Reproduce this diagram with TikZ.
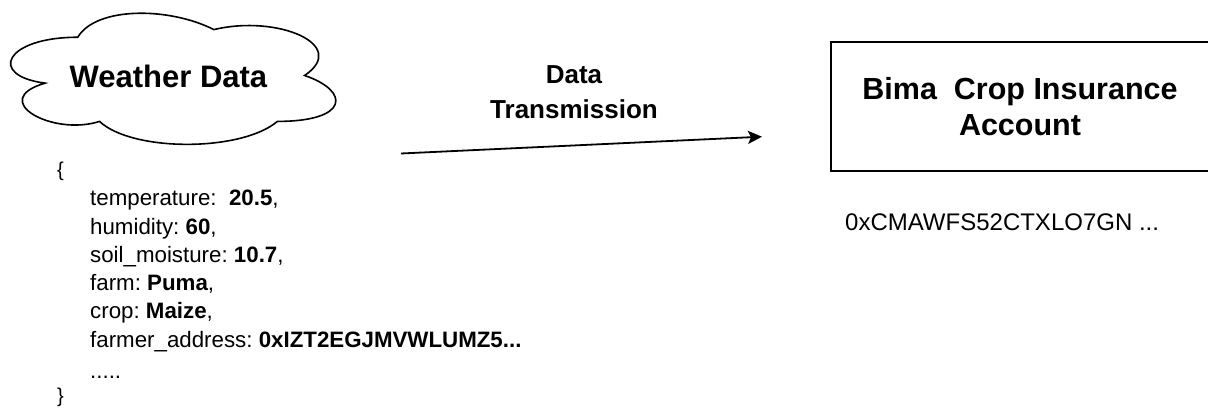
\documentclass[tikz,border=0pt]{standalone}
\usepackage{fontspec}
\setmainfont{Liberation Sans}
\usetikzlibrary{arrows.meta}
\frenchspacing
\tikzset{
  outline/.style={draw=black, line width=1.6pt},
  title/.style={font=\fontsize{31}{36}\selectfont\bfseries, inner sep=0pt},
  label/.style={font=\fontsize{26}{35}\selectfont\bfseries, align=center, inner sep=0pt},
  code/.style={font=\fontsize{22.3}{28}\selectfont, anchor=base west, inner sep=0pt},
  address/.style={font=\fontsize{24}{28}\selectfont, anchor=base west, inner sep=0pt},
  brace/.style={font=\fontsize{20}{24}\selectfont, anchor=base west, inner sep=0pt},
  flow/.style={draw=black, line width=1.8pt, -{Stealth[length=14pt,width=13pt,inset=3pt]}}
}
\begin{document}
\begin{tikzpicture}[x=1pt, y=-1pt]
  \useasboundingbox (0,0) rectangle (1208,409);

  % cloud outline around the weather source
  \draw[outline] (77.75,37.25)
    .. controls (5.15,37.25) and (-13,75.5) .. (45.08,83.15)
    .. controls (-13,99.98) and (52.34,136.7) .. (99.53,121.4)
    .. controls (132.2,152) and (241.1,152) .. (277.4,121.4)
    .. controls (350,121.4) and (350,90.8) .. (304.6,75.5)
    .. controls (350,44.9) and (277.4,14.3) .. (213.9,29.6)
    .. controls (168.5,6.65) and (95.9,6.65) .. (77.75,37.25) -- cycle;
  \node[title, anchor=base] (weather) at (168.5,88) {Weather Data};

  % payload listing
  \node[brace] (l0) at (57,176) {\{};
  \node[code] (l1) at (90,205) {temperature:\ \ \textbf{20.5},};
  \node[code] (l2) at (90,234) {humidity: \textbf{60},};
  \node[code] (l3) at (90,262) {soil\_moisture: \textbf{10.7},};
  \node[code] (l4) at (90,290) {farm: \textbf{Puma},};
  \node[code] (l5) at (90,318) {crop: \textbf{Maize},};
  \node[code] (l6) at (90,347) {farmer\_address: \textbf{0xIZT2EGJMVWLUMZ5...}};
  \node[code] (l7) at (90,378) {.....};
  \node[brace] (l8) at (57,402.5) {\}};

  % transmission arrow
  \coordinate (txfrom) at (401,153.5);
  \coordinate (txto) at (762,136.7);
  \draw[flow] (txfrom) -- (txto);
  \node[label, anchor=base] (txlabel) at (574,118.3) {Data\\Transmission};

  % insurance account box
  \node[outline, minimum width=378pt, minimum height=129pt,
        font=\fontsize{30.5}{36.7}\selectfont\bfseries, align=center,
        inner sep=0pt] (account) at (1020,106.5) {Bima\ \ Crop Insurance\\Account};
  \node[address] (addr) at (845,230) {0xCMAWFS52CTXLO7GN ...};
\end{tikzpicture}
\end{document}
